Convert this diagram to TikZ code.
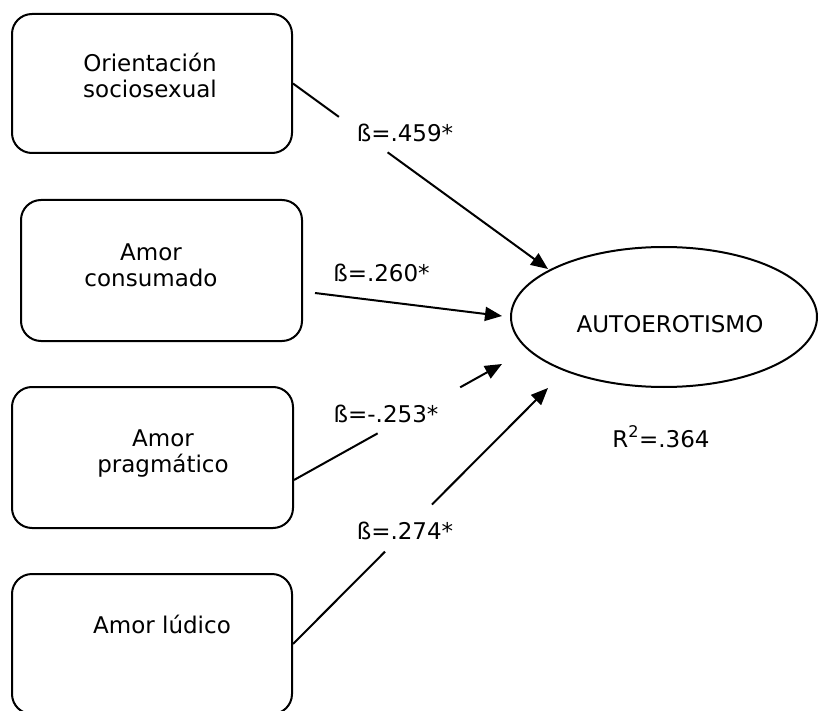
\documentclass[tikz,border=0pt]{standalone}
\usepackage{fontspec}
\setmainfont{DejaVu Sans}
\usetikzlibrary{arrows.meta,calc,shapes.geometric}

\begin{document}
\begin{tikzpicture}[x=1pt,y=-1pt,
  line width=2pt,
  box/.style={draw, rounded corners=20pt, inner sep=0pt},
  oval/.style={draw, ellipse, inner sep=0pt},
  txt/.style={font=\fontsize{23}{26}\selectfont, align=center, anchor=base, inner sep=0pt},
  link/.style={line width=2pt},
  tip/.style={link, -{Triangle[length=17pt,width=14pt]}}
]
\useasboundingbox (0,0) rectangle (819,711);

% predictor boxes
\node[box, minimum width=280pt, minimum height=139pt] (b1) at (152,83.5) {};
\node[box, minimum width=281pt, minimum height=141pt] (b2) at (161.5,270.5) {};
\node[box, minimum width=281pt, minimum height=141pt] (b3) at (152.5,457.5) {};
\node[box, minimum width=280pt, minimum height=140pt] (b4) at (152,644) {};

% box labels (base anchor sits on the last line)
\node[txt] (t1) at (150,98) {Orientación\\sociosexual};
\node[txt] (t2) at (151,287) {Amor\\consumado};
\node[txt] (t3) at (163,472) {Amor\\pragmático};
\node[txt] (t4) at (162,633) {Amor lúdico};

% outcome
\node[oval, minimum width=306pt, minimum height=140pt] (ae) at (664,317) {};
\node[txt] (tae) at (670,332) {AUTOEROTISMO};
\node[txt] (r2) at (661,447) {R\textsuperscript{2}=.364};

% path coefficients
\node[txt] (l1) at (405,142) {ß=.459*};
\node[txt] (l2) at (381.5,282) {ß=.260*};
\node[txt] (l3) at (386,422) {ß=-.253*};
\node[txt] (l4) at (405,539) {ß=.274*};

% arrow end points
\coordinate (s1) at (b1.east);
\coordinate (e1) at (548,269);
\coordinate (s2) at (315,293);
\coordinate (e2) at (502,316);
\coordinate (s3) at ($(b3.east)+(0,22.5)$);
\coordinate (e3) at (502,364);
\coordinate (s4) at (b4.east);
\coordinate (e4) at (548,388);

% arrows, interrupted where the coefficient is printed
\draw[link] (s1) -- ($(s1)!0.18!(e1)$);
\draw[tip] ($(s1)!0.371!(e1)$) -- (e1);
\draw[tip] (s2) -- (e2);
\draw[link] (s3) -- ($(s3)!0.402!(e3)$);
\draw[tip] ($(s3)!0.799!(e3)$) -- (e3);
\draw[link] (s4) -- ($(s4)!0.361!(e4)$);
\draw[tip] ($(s4)!0.545!(e4)$) -- (e4);
\end{tikzpicture}
\end{document}
